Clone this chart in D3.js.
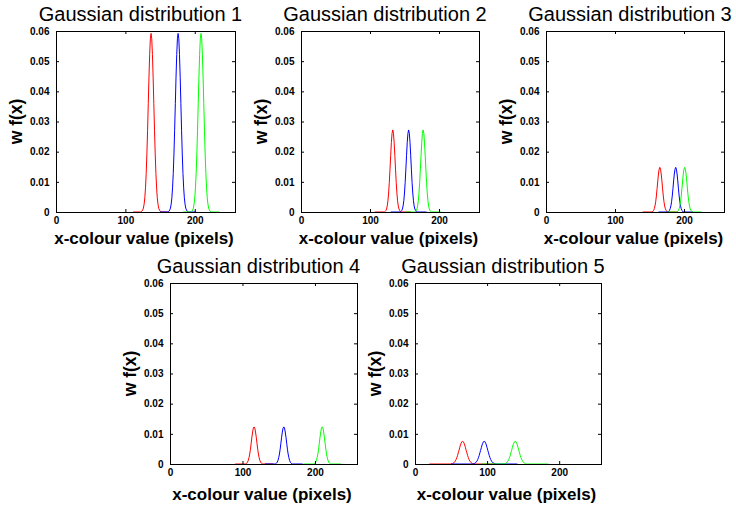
<!DOCTYPE html>
<html>
<head>
<meta charset="utf-8">
<script src="https://cdn.jsdelivr.net/npm/d3@7"></script>
<style>
  html, body { margin: 0; padding: 0; background: #fff; }
  svg { display: block; }
  text { font-family: "Liberation Sans", Arial, Helvetica, sans-serif; fill: #000; }
</style>
</head>
<body>
<svg id="chart" width="736" height="508"></svg>
<script>
// ---------------- data ----------------
const titles = ["Gaussian distribution 1", "Gaussian distribution 2", "Gaussian distribution 3",
                "Gaussian distribution 4", "Gaussian distribution 5"];
const xLabel = "x-colour value (pixels)";
const yLabel = "w f(x)";
const xTicks = [0, 100, 200];
const yTicks = [0, 0.01, 0.02, 0.03, 0.04, 0.05, 0.06];
const yTickLabels = ["0", "0.01", "0.02", "0.03", "0.04", "0.05", "0.06"];
const xDomain = [0, 258];
const yDomain = [0, 0.06];
const seriesNames = ["red channel", "blue channel", "green channel"];

// peak positions (x-colour value) of red, blue, green curves per distribution
const g1Means = [137, 176, 209];
const g2Means = [133, 156, 177];
const g3Means = [165, 188, 201];
const g4Means = [116, 157, 210];
const g5Means = [66, 96, 139];

// half-range over which each curve is plotted (flat zero tails)
const g1Span = 26, g2Span = 26, g3Span = 25, g4Span = 26, g5Span = 46;

// sampled w f(x) values around each peak (one per integer x, centred on the peak)
const g1Profile = [0.0001, 0.0003, 0.0007, 0.0013, 0.0026, 0.0047, 0.0080, 0.0128, 0.0192, 0.0271, 0.0359, 0.0447,
  0.0522, 0.0574, 0.0592, 0.0574, 0.0522, 0.0447, 0.0359, 0.0271, 0.0192, 0.0128, 0.0080, 0.0047, 0.0026,
  0.0013, 0.0007, 0.0003, 0.0001];
const g2Profile = [0.0002, 0.0005, 0.0010, 0.0020, 0.0037, 0.0063, 0.0098, 0.0142, 0.0188, 0.0231, 0.0261, 0.0272,
  0.0261, 0.0231, 0.0188, 0.0142, 0.0098, 0.0063, 0.0037, 0.0020, 0.0010, 0.0005, 0.0002];
const g3Profile = [0.0003, 0.0005, 0.0011, 0.0020, 0.0034, 0.0053, 0.0077, 0.0103, 0.0126, 0.0142, 0.0148,
  0.0142, 0.0126, 0.0103, 0.0077, 0.0053, 0.0034, 0.0020, 0.0011, 0.0005, 0.0003];
const g4Profile = [0.0001, 0.0003, 0.0006, 0.0012, 0.0021, 0.0033, 0.0049, 0.0069, 0.0089, 0.0106, 0.0119, 0.0123,
  0.0119, 0.0106, 0.0089, 0.0069, 0.0049, 0.0033, 0.0021, 0.0012, 0.0006, 0.0003, 0.0001];
const g5Profile = [0.0001, 0.0001, 0.0003, 0.0004, 0.0007, 0.0010, 0.0015, 0.0021, 0.0028, 0.0037, 0.0045, 0.0054,
  0.0063, 0.0069, 0.0074, 0.0075, 0.0074, 0.0069, 0.0063, 0.0054, 0.0045, 0.0037, 0.0028, 0.0021, 0.0015,
  0.0010, 0.0007, 0.0004, 0.0003, 0.0001, 0.0001];

const distributions = [
  { means: g1Means, span: g1Span, profile: g1Profile },
  { means: g2Means, span: g2Span, profile: g2Profile },
  { means: g3Means, span: g3Span, profile: g3Profile },
  { means: g4Means, span: g4Span, profile: g4Profile },
  { means: g5Means, span: g5Span, profile: g5Profile }
];

// ---------------- layout / style ----------------
const seriesColours = ["#ff0000", "#0000ff", "#00ff00"];
const panels = [
  { l: 56,  r: 235, t: 31,  b: 212 },
  { l: 301, r: 479, t: 31,  b: 212 },
  { l: 546, r: 724, t: 31,  b: 212 },
  { l: 170, r: 357, t: 283, b: 464 },
  { l: 415, r: 601, t: 283, b: 464 }
];

const svg = d3.select("#chart");

panels.forEach((p, i) => {
  const d = distributions[i];
  const x = d3.scaleLinear().domain(xDomain).range([p.l, p.r]);
  const y = d3.scaleLinear().domain(yDomain).range([p.b, p.t]);
  const g = svg.append("g");

  // curves
  const line = d3.line().x(v => x(v[0])).y(v => y(v[1]));
  const half = (d.profile.length - 1) / 2;
  d.means.forEach((m, k) => {
    const pts = [[m - d.span, 0], [m - half - 1, 0]]
      .concat(d.profile.map((v, j) => [m - half + j, v]))
      .concat([[m + half + 1, 0], [m + d.span, 0]]);
    g.append("path")
      .attr("d", line(pts))
      .attr("fill", "none")
      .attr("stroke", seriesColours[k])
      .attr("stroke-width", 1)
      .attr("data-series", seriesNames[k]);
  });

  // axes (inward ticks on all four sides)
  const tickFont = g => g.selectAll("text")
      .style("font-family", '"Liberation Sans", Arial, sans-serif')
      .style("font-size", "10px").style("font-weight", "bold").attr("fill", "#000");
  g.append("g").attr("transform", `translate(0,${p.b})`)
    .call(d3.axisBottom(x).tickValues(xTicks).tickFormat(d3.format("d")).tickSizeInner(-3).tickSizeOuter(0).tickPadding(4.5))
    .call(tickFont).call(a => a.select(".domain").remove());
  g.append("g").attr("transform", `translate(${p.l},0)`)
    .call(d3.axisLeft(y).tickValues(yTicks).tickFormat((v, j) => yTickLabels[j]).tickSizeInner(-3).tickSizeOuter(0).tickPadding(6.5))
    .call(tickFont).call(a => a.select(".domain").remove());
  g.append("g").attr("transform", `translate(0,${p.t})`)
    .call(d3.axisTop(x).tickValues(xTicks).tickFormat("").tickSizeInner(-3).tickSizeOuter(0))
    .call(a => a.select(".domain").remove());
  g.append("g").attr("transform", `translate(${p.r},0)`)
    .call(d3.axisRight(y).tickValues(yTicks).tickFormat("").tickSizeInner(-3).tickSizeOuter(0))
    .call(a => a.select(".domain").remove());
  g.selectAll(".tick line").attr("stroke", "#000");

  // box
  g.append("rect")
    .attr("x", p.l + 0.5).attr("y", p.t + 0.5)
    .attr("width", p.r - p.l).attr("height", p.b - p.t)
    .attr("fill", "none").attr("stroke", "#000").attr("stroke-width", 1);

  const cx = (p.l + p.r) / 2;
  // title
  g.append("text")
    .attr("x", cx - 5).attr("y", p.t - 10.5)
    .attr("text-anchor", "middle")
    .style("font-size", "20px")
    .text(titles[i]);
  // x label
  g.append("text")
    .attr("x", cx - 1.5).attr("y", p.b + 31.5 + (i >= 3 ? 4 : 0))
    .attr("text-anchor", "middle")
    .style("font-size", "17px").style("font-weight", "bold")
    .text(xLabel);
  // y label
  g.append("text")
    .attr("transform", `translate(${p.l - 34},${(p.t + p.b) / 2}) rotate(-90)`)
    .attr("text-anchor", "middle")
    .style("font-size", "17.5px").style("font-weight", "bold")
    .text(yLabel);
});
</script>
</body>
</html>
